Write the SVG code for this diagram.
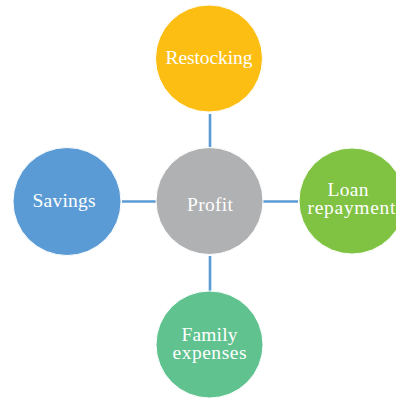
<svg xmlns="http://www.w3.org/2000/svg" width="396" height="399" viewBox="0 0 396 399">
  <style>
    .conn { stroke: #5B9BD5; stroke-width: 2.6; fill: none; }
    .node { stroke: #ffffff; stroke-width: 1; }
    .lbl { font-family: "Liberation Serif", "DejaVu Serif", serif; font-size: 19.5px; fill: #ffffff; text-anchor: middle; }
  </style>
  <rect width="396" height="399" fill="#ffffff"/>
  <g id="connectors">
    <line class="conn" x1="210" y1="114" x2="210" y2="147"/>
    <line class="conn" x1="122" y1="201.5" x2="156" y2="201.5"/>
    <line class="conn" x1="263" y1="201.5" x2="298" y2="201.5"/>
    <line class="conn" x1="210" y1="256" x2="210" y2="291"/>
  </g>
  <g id="restocking">
    <circle class="node" cx="209" cy="58.5" r="53.5" fill="#FCBE13"/>
    <text class="lbl" x="209" y="63.5" textLength="87" lengthAdjust="spacing">Restocking</text>
  </g>
  <g id="profit">
    <circle class="node" cx="209.5" cy="201" r="53.5" fill="#B0B1B3"/>
    <text class="lbl" x="210" y="211" textLength="46" lengthAdjust="spacing">Profit</text>
  </g>
  <g id="savings">
    <circle class="node" cx="67" cy="201.5" r="54" fill="#5B9BD5"/>
    <text class="lbl" x="64" y="207" textLength="63" lengthAdjust="spacing">Savings</text>
  </g>
  <g id="loan-repayment">
    <circle class="node" cx="352" cy="201" r="53" fill="#80C242"/>
    <text class="lbl" x="348" y="196" textLength="41" lengthAdjust="spacing">Loan</text>
    <text class="lbl" x="351.5" y="214" textLength="88" lengthAdjust="spacing">repayment</text>
  </g>
  <g id="family-expenses">
    <circle class="node" cx="209.5" cy="344.5" r="53.5" fill="#60C28F"/>
    <text class="lbl" x="209.5" y="340.5" textLength="56" lengthAdjust="spacing">Family</text>
    <text class="lbl" x="209.5" y="358.5" textLength="74" lengthAdjust="spacing">expenses</text>
  </g>
</svg>
